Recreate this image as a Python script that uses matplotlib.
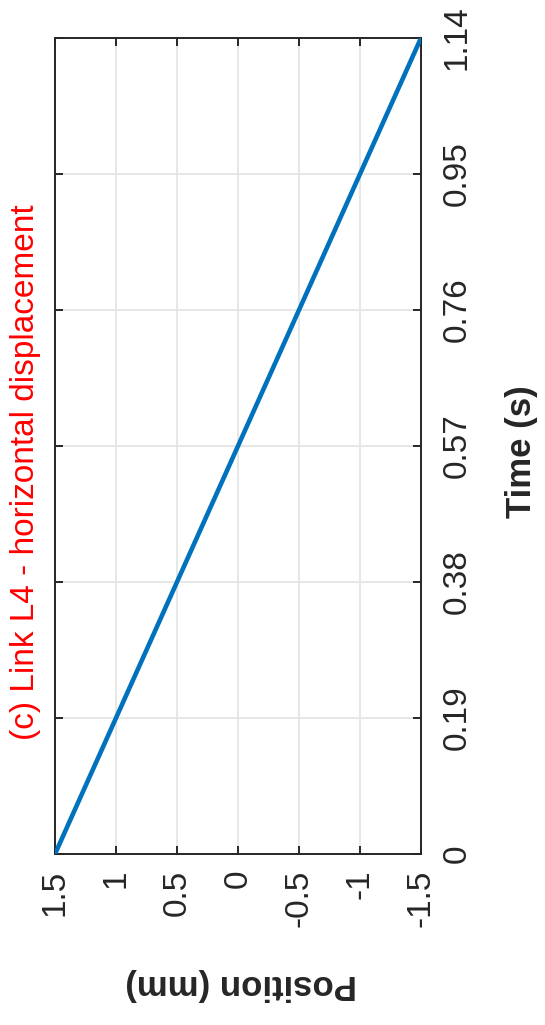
import matplotlib
matplotlib.use('Agg')
import matplotlib.pyplot as plt

time = [0.0, 0.19, 0.38, 0.57, 0.76, 0.95, 1.14]
position = [1.5, 1.0, 0.5, 0.0, -0.5, -1.0, -1.5]

time_ticks = [0, 0.19, 0.38, 0.57, 0.76, 0.95, 1.14]
time_labels = ['0', '0.19', '0.38', '0.57', '0.76', '0.95', '1.14']
pos_ticks = [1.5, 1, 0.5, 0, -0.5, -1, -1.5]
pos_labels = ['1.5', '1', '0.5', '0', '-0.5', '-1', '-1.5']

plt.rcParams['font.family'] = ['Liberation Sans', 'DejaVu Sans']

W, H = 545, 1025
fig = plt.figure(figsize=(W / 100, H / 100), dpi=100)
# axes box in pixels: left 55, right 421, top 38, bottom 854
ax = fig.add_axes([55 / W, 1 - 854 / H, (421 - 55) / W, (854 - 38) / H])

ax.plot(position, time, color='#0072BD', lw=3.3, solid_capstyle='round', zorder=3)

ax.set_xlim(1.5, -1.5)
ax.set_ylim(0, 1.14)
ax.set_xticks(pos_ticks)
ax.set_xticklabels(pos_labels)
ax.set_yticks(time_ticks)
ax.set_yticklabels(time_labels)

ax.grid(True, color='#e3e3e3', lw=1.2, zorder=0)
ax.set_axisbelow(True)
for s in ax.spines.values():
    s.set_color('#262626')
    s.set_linewidth(1.4)

ax.tick_params(axis='both', direction='in', length=6, width=1.4, color='#262626',
               labelcolor='#262626', labelsize=24, top=True, right=True)
ax.tick_params(axis='x', labelrotation=90, pad=11)
ax.tick_params(axis='y', labelleft=False, labelright=True, labelrotation=90, pad=15)
for lab in ax.yaxis.get_majorticklabels():
    lab.set_va('center')
    lab.set_ha('left')
for lab in ax.xaxis.get_majorticklabels():
    lab.set_va('top')
    lab.set_ha('center')

fig.text(26 / W, 1 - 472 / H, '(c) Link L4 - horizontal displacement', rotation=90,
         color='red', fontsize=24, ha='center', va='center')
fig.text(522 / W, 1 - 452 / H, 'Time (s)', rotation=90, fontsize=25,
         fontweight='bold', color='#262626', ha='center', va='center')
fig.text(241 / W, 1 - 985 / H, 'Position (mm)', rotation=180, fontsize=25,
         fontweight='bold', color='#262626', ha='center', va='center')

fig.savefig('out.png', dpi=100, facecolor='white')
